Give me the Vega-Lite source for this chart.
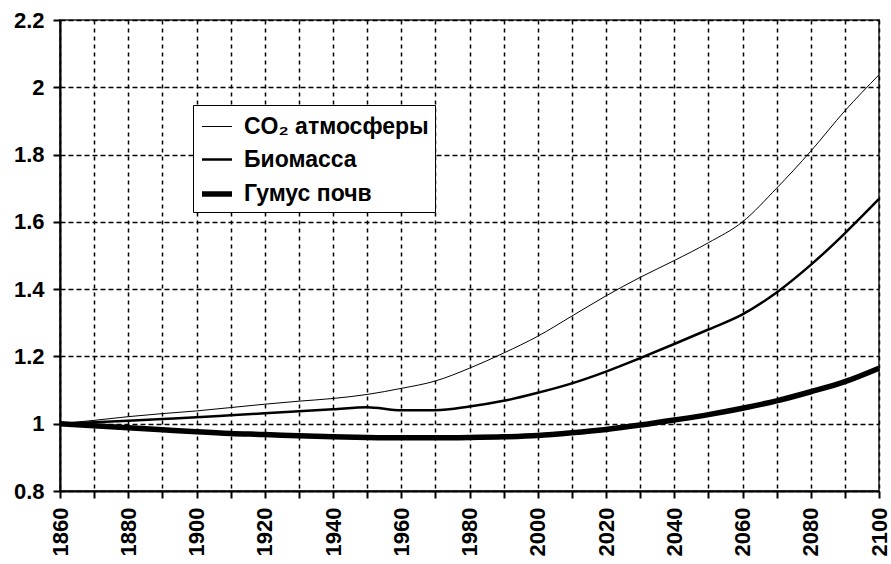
{
  "$schema": "https://vega.github.io/schema/vega-lite/v6.json",
  "width": 819,
  "height": 471,
  "autosize": {"type": "none"},
  "padding": {"left": 60, "top": 20, "right": 12, "bottom": 73},
  "background": "white",
  "config": {
    "view": {"stroke": "#555", "strokeWidth": 2},
    "font": "Liberation Sans"
  },
  "data": {
    "values": [
      {"year": 1860, "CO₂ атмосферы": 1.000, "Биомасса": 1.000, "Гумус почв": 1.000},
      {"year": 1870, "CO₂ атмосферы": 1.010, "Биомасса": 1.004, "Гумус почв": 0.994},
      {"year": 1880, "CO₂ атмосферы": 1.021, "Биомасса": 1.009, "Гумус почв": 0.988},
      {"year": 1890, "CO₂ атмосферы": 1.030, "Биомасса": 1.014, "Гумус почв": 0.982},
      {"year": 1900, "CO₂ атмосферы": 1.038, "Биомасса": 1.019, "Гумус почв": 0.976},
      {"year": 1910, "CO₂ атмосферы": 1.048, "Биомасса": 1.025, "Гумус почв": 0.971},
      {"year": 1920, "CO₂ атмосферы": 1.058, "Биомасса": 1.031, "Гумус почв": 0.968},
      {"year": 1930, "CO₂ атмосферы": 1.067, "Биомасса": 1.037, "Гумус почв": 0.964},
      {"year": 1940, "CO₂ атмосферы": 1.075, "Биомасса": 1.043, "Гумус почв": 0.961},
      {"year": 1950, "CO₂ атмосферы": 1.087, "Биомасса": 1.049, "Гумус почв": 0.959},
      {"year": 1960, "CO₂ атмосферы": 1.105, "Биомасса": 1.040, "Гумус почв": 0.958},
      {"year": 1970, "CO₂ атмосферы": 1.127, "Биомасса": 1.040, "Гумус почв": 0.958},
      {"year": 1980, "CO₂ атмосферы": 1.165, "Биомасса": 1.051, "Гумус почв": 0.959},
      {"year": 1990, "CO₂ атмосферы": 1.210, "Биомасса": 1.068, "Гумус почв": 0.961},
      {"year": 2000, "CO₂ атмосферы": 1.260, "Биомасса": 1.092, "Гумус почв": 0.965},
      {"year": 2010, "CO₂ атмосферы": 1.320, "Биомасса": 1.120, "Гумус почв": 0.973},
      {"year": 2020, "CO₂ атмосферы": 1.380, "Биомасса": 1.155, "Гумус почв": 0.983},
      {"year": 2030, "CO₂ атмосферы": 1.435, "Биомасса": 1.195, "Гумус почв": 0.996},
      {"year": 2040, "CO₂ атмосферы": 1.485, "Биомасса": 1.237, "Гумус почв": 1.011},
      {"year": 2050, "CO₂ атмосферы": 1.538, "Биомасса": 1.280, "Гумус почв": 1.027},
      {"year": 2060, "CO₂ атмосферы": 1.600, "Биомасса": 1.325, "Гумус почв": 1.046},
      {"year": 2070, "CO₂ атмосферы": 1.700, "Биомасса": 1.390, "Гумус почв": 1.068},
      {"year": 2080, "CO₂ атмосферы": 1.810, "Биомасса": 1.472, "Гумус почв": 1.095},
      {"year": 2090, "CO₂ атмосферы": 1.930, "Биомасса": 1.566, "Гумус почв": 1.125},
      {"year": 2100, "CO₂ атмосферы": 2.037, "Биомасса": 1.668, "Гумус почв": 1.165}
    ]
  },
  "transform": [
    {"fold": ["CO₂ атмосферы", "Биомасса", "Гумус почв"], "as": ["series", "value"]}
  ],
  "mark": {"type": "line", "color": "black", "interpolate": "monotone"},
  "encoding": {
    "x": {
      "field": "year",
      "type": "quantitative",
      "scale": {"domain": [1860, 2100], "nice": false, "zero": false},
      "axis": {
        "title": null,
        "values": [1860,1870,1880,1890,1900,1910,1920,1930,1940,1950,1960,1970,1980,1990,2000,2010,2020,2030,2040,2050,2060,2070,2080,2090,2100],
        "format": "d",
        "labelExpr": "datum.value % 20 == 0 ? datum.label : ''",
        "labelAngle": -90,
        "labelAlign": "right",
        "labelBaseline": "middle",
        "labelFont": "Liberation Sans",
        "labelFontWeight": "bold",
        "labelFontSize": 22,
        "labelColor": "black",
        "labelPadding": 9,
        "labelOverlap": false,
        "labelFlush": false,
        "tickSize": 7,
        "tickColor": "black",
        "tickWidth": 2,
        "domainColor": "black",
        "domainWidth": 2,
        "grid": true,
        "gridColor": "black",
        "gridWidth": 1.5,
        "gridDash": [4, 4],
        "gridOpacity": 1
      }
    },
    "y": {
      "field": "value",
      "type": "quantitative",
      "scale": {"domain": [0.8, 2.2], "nice": false, "zero": false},
      "axis": {
        "title": null,
        "values": [0.8, 1.0, 1.2, 1.4, 1.6, 1.8, 2.0, 2.2],
        "format": "~g",
        "labelFont": "Liberation Sans",
        "labelFontWeight": "bold",
        "labelFontSize": 22,
        "labelColor": "black",
        "labelPadding": 9,
        "labelFlush": false,
        "tickSize": 7,
        "tickColor": "black",
        "tickWidth": 2,
        "domainColor": "black",
        "domainWidth": 2,
        "grid": true,
        "gridColor": "black",
        "gridWidth": 1.5,
        "gridDash": [5, 3],
        "gridOpacity": 1
      }
    },
    "detail": {"field": "series"},
    "strokeWidth": {
      "field": "series",
      "type": "ordinal",
      "scale": {"type": "ordinal", "domain": ["CO₂ атмосферы", "Биомасса", "Гумус почв"], "range": [1, 2.5, 5.5]},
      "legend": {
        "title": null,
        "orient": "none",
        "legendX": 133,
        "legendY": 85,
        "symbolType": "stroke",
        "symbolStrokeColor": "black",
        "symbolSize": 900,
        "labelFont": "Liberation Sans",
        "labelFontWeight": "bold",
        "labelFontSize": 23,
        "labelColor": "black",
        "labelOffset": 9,
        "labelLimit": 400,
        "rowPadding": 4,
        "padding": 6,
        "strokeColor": "black",
        "fillColor": "white"
      }
    }
  }
}
